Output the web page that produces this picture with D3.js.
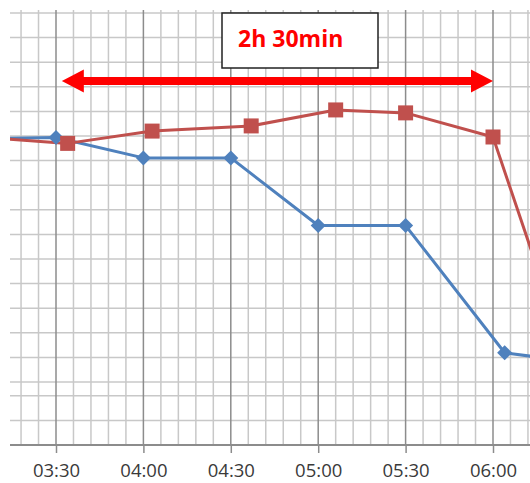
<!DOCTYPE html>
<html>
<head>
<meta charset="utf-8">
<script src="https://cdn.jsdelivr.net/npm/d3@7/dist/d3.min.js"></script>
<style>
  html, body { margin: 0; padding: 0; background: #fff; }
  svg { display: block; }
  .tick-label { font-family: 'Open Sans', sans-serif; font-size: 18.5px; fill: #3a3a3a; }
  .span-label { font-family: 'Open Sans', sans-serif; font-size: 23px; font-weight: bold; fill: #ff0000; }
</style>
</head>
<body>
<div id="chart"></div>
<script>
// tick labels on the time axis
const tickLabels = ['03:30', '04:00', '04:30', '05:00', '05:30', '06:00'];

// blue series (diamonds)
const blueTimes = ['03:00', '03:30', '04:00', '04:30', '05:00', '05:30', '06:04', '06:30'];
const blueValues = [12.44, 12.5, 11.67, 11.67, 8.92, 8.92, 3.75, 3.34];

// red series (squares)
const redTimes = ['03:00', '03:34', '04:03', '04:37', '05:06', '05:30', '06:00', '06:30'];
const redValues = [12.55, 12.26, 12.76, 12.97, 13.62, 13.5, 12.52, 2.0];

// duration annotation
const spanTimes = ['03:32', '06:00'];
const spanValue = 14.8;
const spanLabel = '2h 30min';

const width = 530;
const height = 483;
const plot = { left: 10, right: 530, top: 13, bottom: 445 };

const parse = d3.timeParse('%H:%M');
const x = d3.scaleTime()
  .domain([parse('03:30'), parse('06:00')])
  .range([56, 493]);
const y = d3.scaleLinear()
  .domain([0, 17.56])
  .range([plot.bottom, plot.top]);

const svg = d3.select('#chart').append('svg')
  .attr('width', width)
  .attr('height', height);

svg.append('clipPath').attr('id', 'plot-clip')
  .append('rect')
  .attr('x', plot.left)
  .attr('y', 0)
  .attr('width', plot.right - plot.left)
  .attr('height', height);

const grid = svg.append('g').attr('class', 'grid');

// horizontal gridlines: three from the bottom, the rest stepping down from the top
const yGrid = [0, 1, 2].concat(d3.range(17.56, 2.5, -1));
grid.selectAll('line.h')
  .data(yGrid)
  .join('line')
  .attr('class', 'h')
  .attr('x1', plot.left)
  .attr('x2', plot.right)
  .attr('y1', (d) => y(d))
  .attr('y2', (d) => y(d))
  .attr('stroke', '#c8c8c8')
  .attr('stroke-width', 1.5);

const visible = [x.invert(plot.left), x.invert(plot.right)];
const minorTimes = d3.timeMinute.every(6).range(visible[0], visible[1]);
grid.selectAll('line.minor')
  .data(minorTimes.filter((t) => t.getMinutes() % 30 !== 0))
  .join('line')
  .attr('class', 'minor')
  .attr('x1', (d) => x(d))
  .attr('x2', (d) => x(d))
  .attr('y1', 10)
  .attr('y2', plot.bottom)
  .attr('stroke', '#c8c8c8')
  .attr('stroke-width', 1.5);

const majorTimes = tickLabels.map(parse);
grid.selectAll('line.major')
  .data(majorTimes)
  .join('line')
  .attr('class', 'major')
  .attr('x1', (d) => x(d))
  .attr('x2', (d) => x(d))
  .attr('y1', 10)
  .attr('y2', plot.bottom)
  .attr('stroke', '#8c8c8c')
  .attr('stroke-width', 1.5);

// x axis
const axis = svg.append('g')
  .attr('transform', `translate(0,${plot.bottom})`)
  .call(d3.axisBottom(x).tickValues(majorTimes).tickFormat(d3.timeFormat('%H:%M')).tickSize(8).tickPadding(11));
axis.select('.domain').remove();
axis.selectAll('.tick line').attr('stroke', '#8c8c8c').attr('stroke-width', 1.5);
axis.selectAll('.tick text').attr('class', 'tick-label').attr('font-size', null).attr('font-family', null).attr('fill', null);
svg.append('line')
  .attr('x1', plot.left)
  .attr('x2', plot.right)
  .attr('y1', plot.bottom)
  .attr('y2', plot.bottom)
  .attr('stroke', '#8c8c8c')
  .attr('stroke-width', 2);

// series
const series = [
  { name: 'blue', color: '#4f81bd', marker: 'diamond', points: blueTimes.map((t, i) => ({ t: parse(t), v: blueValues[i] })) },
  { name: 'red', color: '#c0504d', marker: 'square', points: redTimes.map((t, i) => ({ t: parse(t), v: redValues[i] })) }
];

const line = d3.line().x((d) => x(d.t)).y((d) => y(d.v));
const dataLayer = svg.append('g').attr('clip-path', 'url(#plot-clip)');

series.forEach((s) => {
  dataLayer.append('path')
    .datum(s.points)
    .attr('d', line)
    .attr('fill', 'none')
    .attr('stroke', s.color)
    .attr('stroke-width', 3)
    .attr('stroke-linejoin', 'round');
});

series.forEach((s) => {
  const markerPath = s.marker === 'diamond'
    ? 'M0,-7.5L7.5,0L0,7.5L-7.5,0Z'
    : 'M-7.5,-7.5H7.5V7.5H-7.5Z';
  dataLayer.selectAll(`path.marker-${s.name}`)
    .data(s.points)
    .join('path')
    .attr('class', `marker-${s.name}`)
    .attr('transform', (d) => `translate(${x(d.t)},${y(d.v)})`)
    .attr('d', markerPath)
    .attr('fill', s.color);
});

// double-headed arrow
const ax1 = x(parse(spanTimes[0]));
const ax2 = x(parse(spanTimes[1]));
const ay = y(spanValue);
const shaft = 4;
const headLen = 22;
const headHalf = 11.5;
svg.append('path')
  .attr('d', [
    `M${ax1},${ay}`,
    `L${ax1 + headLen},${ay - headHalf}`,
    `L${ax1 + headLen},${ay - shaft}`,
    `L${ax2 - headLen},${ay - shaft}`,
    `L${ax2 - headLen},${ay - headHalf}`,
    `L${ax2},${ay}`,
    `L${ax2 - headLen},${ay + headHalf}`,
    `L${ax2 - headLen},${ay + shaft}`,
    `L${ax1 + headLen},${ay + shaft}`,
    `L${ax1 + headLen},${ay + headHalf}`,
    'Z'
  ].join(''))
  .attr('fill', '#ff0000');

// label box
const box = svg.append('g').attr('transform', 'translate(222,13)');
box.append('rect')
  .attr('width', 156)
  .attr('height', 55)
  .attr('fill', '#fff')
  .attr('stroke', '#222')
  .attr('stroke-width', 1.5);
box.append('text')
  .attr('class', 'span-label')
  .attr('x', 16)
  .attr('y', 34)
  .text(spanLabel);
</script>
</body>
</html>
